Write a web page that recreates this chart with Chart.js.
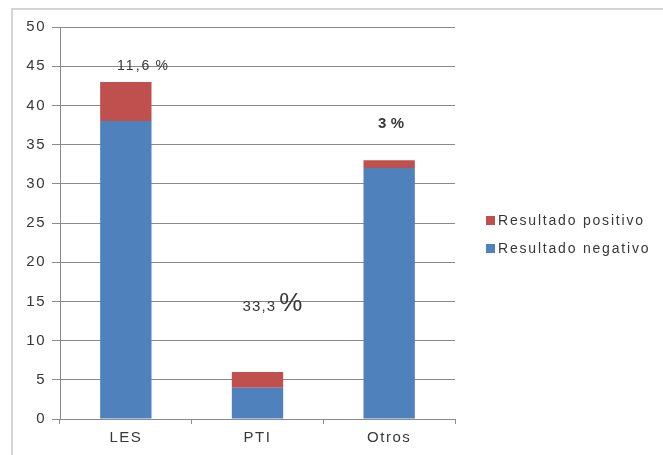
<!DOCTYPE html>
<html>
<head>
<meta charset="utf-8">
<script src="https://cdn.jsdelivr.net/npm/chart.js@4/dist/chart.umd.min.js"></script>
<style>
  html, body { margin: 0; padding: 0; background: #fff; overflow: hidden; }
  #wrap { position: relative; width: 663px; height: 455px; }
  #frame { position: absolute; left: 11px; top: 8px; width: 720px; height: 520px;
           border: 2px solid #d4d4d4; box-sizing: border-box; }
  canvas { position: absolute; left: 0; top: 0; }
</style>
</head>
<body>
<div id="wrap">
  <div id="frame"></div>
  <canvas id="chart" width="663" height="455"></canvas>
</div>
<script>
// Categories and series
const categories = ['LES', 'PTI', 'Otros'];
const negativos = [38, 4, 32];   // Resultado negativo
const positivos = [5, 2, 1];     // Resultado positivo
const yMin = 0, yMax = 50, yStep = 5;

const FONT = "'Liberation Sans', Arial, sans-serif";
const TEXT = '#383838';
const SPACING = '1.5px';

// Percentage of positive results per category, e.g. "11,6 %"
function pctText(i) {
  const p = positivos[i] / (positivos[i] + negativos[i]) * 100;
  let s = p.toFixed(1);
  if (s.endsWith('.0')) s = s.slice(0, -2);
  return s.replace('.', ',');
}

// Wide letter spacing for all canvas text
const spacedText = {
  id: 'spacedText',
  beforeLayout(chart) { chart.ctx.letterSpacing = SPACING; },
  beforeDraw(chart) { chart.ctx.letterSpacing = SPACING; }
};

// Percent labels above the bars
const pctLabels = {
  id: 'pctLabels',
  afterDatasetsDraw(chart, args, opts) {
    const { ctx, scales: { x, y } } = chart;
    ctx.save();
    ctx.fillStyle = TEXT;
    ctx.textBaseline = 'alphabetic';
    opts.items.forEach((it, i) => {
      const cx = x.getPixelForValue(i) + it.dx * (x.width / categories.length);
      const by = y.getPixelForValue(it.y);
      const num = pctText(i);
      ctx.letterSpacing = it.spacing;
      ctx.font = `${it.weight} ${it.numSize}px ${FONT}`;
      const wNum = ctx.measureText(num).width;
      ctx.font = `${it.weight} ${it.pctSize}px ${FONT}`;
      const wPct = ctx.measureText('%').width;
      const total = wNum + it.gap + wPct;
      const sx = cx - total / 2;
      ctx.textAlign = 'left';
      ctx.font = `${it.weight} ${it.numSize}px ${FONT}`;
      ctx.fillText(num, sx, by);
      ctx.font = `${it.weight} ${it.pctSize}px ${FONT}`;
      ctx.fillText('%', sx + wNum + it.gap, by);
    });
    ctx.restore();
  }
};

// Legend on the right, positive series first
const sideLegend = {
  id: 'sideLegend',
  afterDraw(chart, args, opts) {
    const { ctx, chartArea } = chart;
    ctx.save();
    ctx.letterSpacing = opts.spacing;
    ctx.font = `14px ${FONT}`;
    ctx.textBaseline = 'middle';
    ctx.textAlign = 'left';
    const ds = chart.data.datasets.slice().reverse();
    ds.forEach((d, k) => {
      const yy = chartArea.top + opts.top + k * opts.rowGap;
      const xx = chartArea.right + opts.left;
      ctx.fillStyle = d.backgroundColor;
      ctx.fillRect(xx, yy - 4.5, 9, 9);
      ctx.fillStyle = TEXT;
      ctx.fillText(d.label, xx + 12, yy + 0.5);
    });
    ctx.restore();
  }
};

new Chart(document.getElementById('chart'), {
  type: 'bar',
  data: {
    labels: categories,
    datasets: [
      { label: 'Resultado negativo', data: negativos, backgroundColor: '#4F81BD',
        barPercentage: 0.39, categoryPercentage: 1.0 },
      { label: 'Resultado positivo', data: positivos, backgroundColor: '#C0504D',
        barPercentage: 0.39, categoryPercentage: 1.0 }
    ]
  },
  options: {
    responsive: false,
    animation: false,
    devicePixelRatio: 1,
    layout: { padding: { left: 0, right: 208, top: 27, bottom: 0 } },
    plugins: {
      legend: { display: false },
      tooltip: { enabled: false },
      pctLabels: {
        items: [
          { dx: 0.134, y: 44.5, numSize: 14, pctSize: 14, gap: 4, weight: 'normal', spacing: '2.1px' },
          { dx: 0.118, y: 13.8, numSize: 15, pctSize: 26, gap: 3, weight: 'normal', spacing: '1.2px' },
          { dx: 0.02, y: 37.1, numSize: 15, pctSize: 15, gap: 3, weight: 'bold', spacing: '1.5px' }
        ]
      },
      sideLegend: { left: 31, top: 193.5, rowGap: 28, spacing: '1.8px' }
    },
    scales: {
      x: {
        stacked: true,
        grid: { display: true, offset: true, drawOnChartArea: false, drawTicks: true,
                tickLength: 5, color: '#8a8a8a' },
        border: { display: true, color: '#8a8a8a', width: 1 },
        ticks: { color: TEXT, font: { family: FONT, size: 15 }, padding: 5 },
        afterFit(s) { s.height = 36; }
      },
      y: {
        stacked: true,
        min: yMin, max: yMax,
        grid: { color: '#8a8a8a', lineWidth: 1, drawTicks: true, tickLength: 8 },
        border: { display: true, color: '#8a8a8a', width: 1 },
        ticks: { stepSize: yStep, color: TEXT, font: { family: FONT, size: 15 }, padding: 6 },
        afterFit(s) { s.width = 60; }
      }
    }
  },
  plugins: [spacedText, pctLabels, sideLegend]
});
</script>
</body>
</html>
